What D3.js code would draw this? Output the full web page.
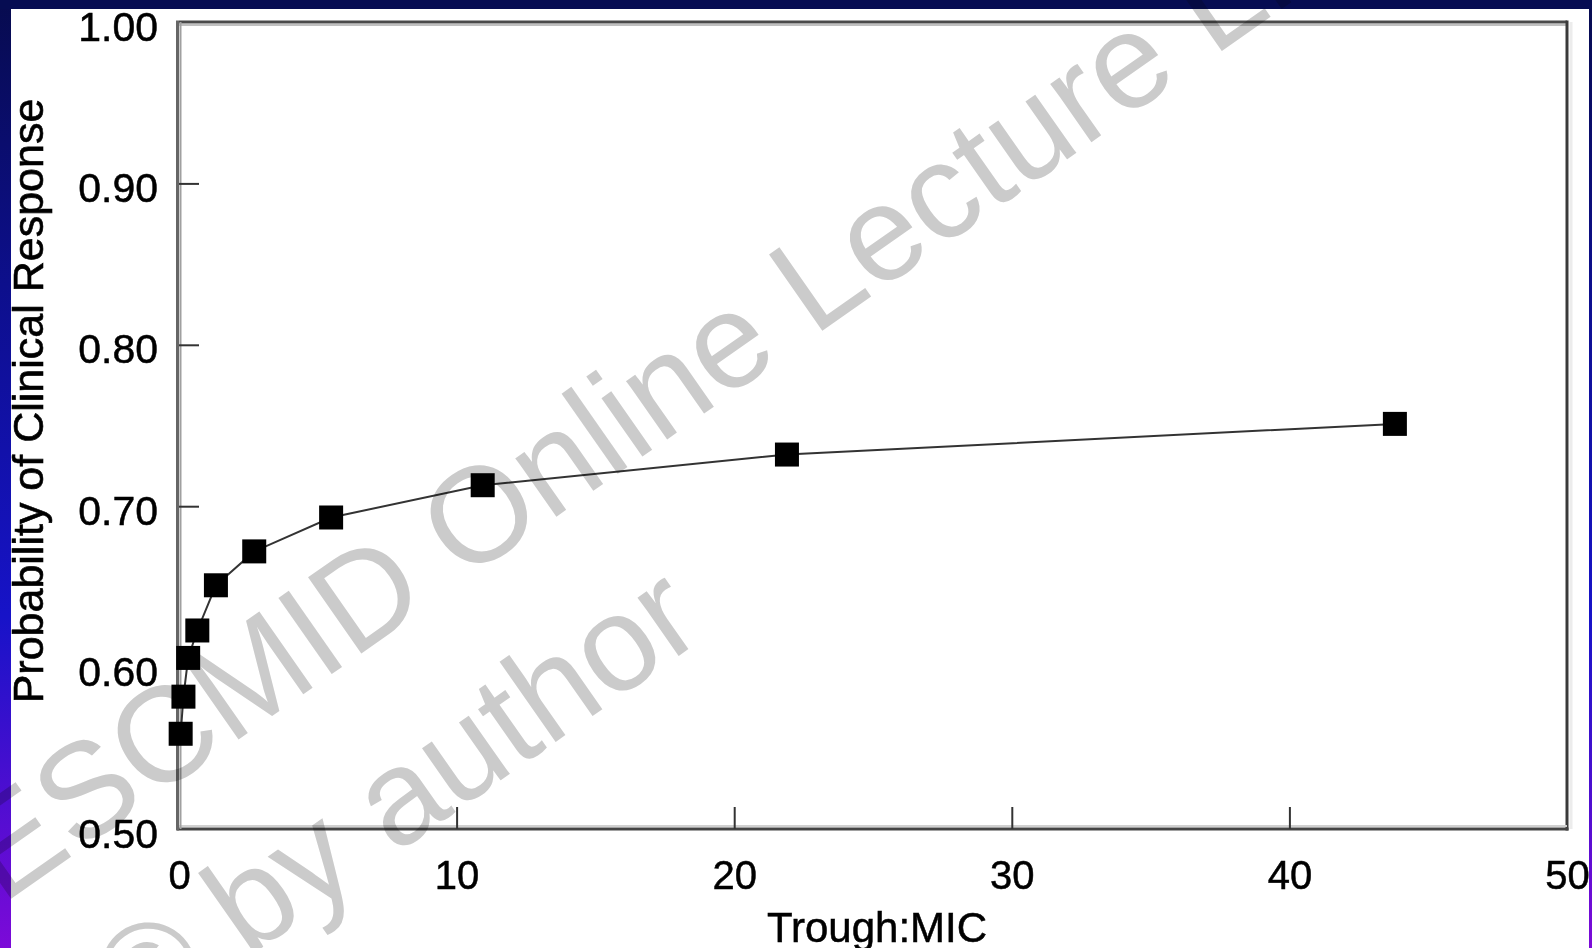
<!DOCTYPE html>
<html>
<head>
<meta charset="utf-8">
<script src="https://cdn.jsdelivr.net/npm/d3@7"></script>
<style>
  html, body { margin: 0; padding: 0; background: #fff; overflow: hidden; }
  svg { display: block; font-family: "Liberation Sans", Arial, sans-serif; }
</style>
</head>
<body>
<svg id="chart" width="1592" height="948"></svg>
<script>
// values
const troughMic = [0.06, 0.16, 0.33, 0.66, 1.33, 2.71, 5.48, 10.94, 21.9, 43.8];
const probResponse = [0.559, 0.582, 0.606, 0.623, 0.651, 0.672, 0.693, 0.713, 0.732, 0.751];
const xTicks = [0, 10, 20, 30, 40, 50];
const yTicks = [0.50, 0.60, 0.70, 0.80, 0.90, 1.00];
const xTitle = "Trough:MIC";
const yTitle = "Probability of Clinical Response";
const watermark = ["ESCMID Online Lecture Library", "\u00a9 by author"];

const W = 1592, H = 948;
const svg = d3.select("#chart");

// slide background: navy band on top, gradient strips at the sides
const grad = svg.append("defs").append("linearGradient")
    .attr("id", "side").attr("x1", 0).attr("y1", 0).attr("x2", 0).attr("y2", 1);
grad.append("stop").attr("offset", "0%").attr("stop-color", "#070b4f");
grad.append("stop").attr("offset", "30%").attr("stop-color", "#0d0f8c");
grad.append("stop").attr("offset", "65%").attr("stop-color", "#1713c8");
grad.append("stop").attr("offset", "100%").attr("stop-color", "#7c0ad8");

svg.append("rect").attr("width", W).attr("height", H).attr("fill", "#fff");
svg.append("rect").attr("x", 0).attr("y", 0).attr("width", 11).attr("height", H).attr("fill", "url(#side)");
svg.append("rect").attr("x", W - 3).attr("y", 0).attr("width", 3).attr("height", H).attr("fill", "url(#side)");
svg.append("rect").attr("x", 0).attr("y", 0).attr("width", W).attr("height", 9).attr("fill", "#060c52");

// scales
const x = d3.scaleLinear().domain([0, 50]).range([179, 1567]);
const y = d3.scaleLinear().domain([0.5, 1.0]).range([829, 22]);

const g = svg.append("g");

// frame
g.append("line").attr("x1", x(0)).attr("x2", x(50)).attr("y1", y(1) + 3).attr("y2", y(1) + 3)
    .attr("stroke", "#c0c0c0").attr("stroke-width", 2);
g.append("line").attr("x1", x(0)).attr("x2", x(50)).attr("y1", y(1)).attr("y2", y(1))
    .attr("stroke", "#4a4a4a").attr("stroke-width", 3);
g.append("line").attr("x1", x(50) + 4).attr("x2", x(50) + 4).attr("y1", y(1)).attr("y2", y(0.5))
    .attr("stroke", "#ececec").attr("stroke-width", 3);
g.append("line").attr("x1", x(50)).attr("x2", x(50)).attr("y1", y(1) - 1.5).attr("y2", y(0.5) + 1.5)
    .attr("stroke", "#3a3a3a").attr("stroke-width", 3);
g.append("line").attr("x1", x(0)).attr("x2", x(50)).attr("y1", y(0.5) - 3).attr("y2", y(0.5) - 3)
    .attr("stroke", "#d0d0d0").attr("stroke-width", 2);
g.append("line").attr("x1", x(0) - 2).attr("x2", x(50) + 1.5).attr("y1", y(0.5)).attr("y2", y(0.5))
    .attr("stroke", "#444").attr("stroke-width", 3);
g.append("line").attr("x1", x(0) + 1.5).attr("x2", x(0) + 1.5).attr("y1", y(1)).attr("y2", y(0.5))
    .attr("stroke", "#a0a0a0").attr("stroke-width", 2);
g.append("line").attr("x1", x(0) - 1.5).attr("x2", x(0) - 1.5).attr("y1", y(1) - 1.5).attr("y2", y(0.5) + 1.5)
    .attr("stroke", "#666").attr("stroke-width", 3);

// axes (ticks point inward)
const xAxis = g.append("g")
    .attr("transform", `translate(0,${y(0.5)})`)
    .call(d3.axisBottom(x).tickValues(xTicks).tickSizeInner(-22).tickSizeOuter(0).tickPadding(0));
xAxis.select(".domain").remove();
xAxis.selectAll(".tick line")
    .attr("stroke", "#333").attr("stroke-width", 2)
    .style("display", d => (d === 0 || d === 50) ? "none" : null);
xAxis.selectAll(".tick text")
    .attr("y", 60).attr("dy", null)
    .attr("fill", "#000").attr("stroke", "#000").attr("stroke-width", 0.5)
    .attr("font-size", 40).attr("font-family", "Liberation Sans, Arial, sans-serif");

const yAxis = g.append("g")
    .attr("transform", `translate(${x(0)},0)`)
    .call(d3.axisLeft(y).tickValues(yTicks).tickFormat(d3.format(".2f"))
        .tickSizeInner(-20).tickSizeOuter(0).tickPadding(0));
yAxis.select(".domain").remove();
yAxis.selectAll(".tick line")
    .attr("stroke", "#333").attr("stroke-width", 2)
    .style("display", d => (d === 0.5 || d === 1.0) ? "none" : null);
yAxis.selectAll(".tick text")
    .attr("x", -21).attr("dy", null).attr("y", 18)
    .attr("fill", "#000").attr("stroke", "#000").attr("stroke-width", 0.5)
    .attr("font-size", 41).attr("font-family", "Liberation Sans, Arial, sans-serif");

// axis titles
g.append("text")
    .attr("x", 877).attr("y", 942)
    .attr("text-anchor", "middle")
    .attr("font-size", 42)
    .attr("fill", "#000").attr("stroke", "#000").attr("stroke-width", 0.5)
    .text(xTitle);
g.append("text")
    .attr("transform", "translate(43,401) rotate(-90)")
    .attr("text-anchor", "middle")
    .attr("font-size", 43)
    .attr("fill", "#000").attr("stroke", "#000").attr("stroke-width", 0.6)
    .text(yTitle);

// line and square markers
const pts = troughMic.map((v, i) => [v, probResponse[i]]);
const line = d3.line().x(d => x(d[0])).y(d => y(d[1]));
g.append("path")
    .datum(pts)
    .attr("d", line)
    .attr("fill", "none")
    .attr("stroke", "#333")
    .attr("stroke-width", 2);
const S = 24;
g.selectAll("rect.pt")
    .data(pts)
    .enter()
    .append("rect")
    .attr("class", "pt")
    .attr("x", d => x(d[0]) - S / 2)
    .attr("y", d => y(d[1]) - S / 2)
    .attr("width", S)
    .attr("height", S)
    .attr("fill", "#000");

// watermark across the slide
const wm = svg.append("g")
    .attr("transform", "translate(2,905) rotate(-35)")
    .style("mix-blend-mode", "multiply");
wm.selectAll("text")
    .data(watermark)
    .enter()
    .append("text")
    .attr("x", (d, i) => i * 33)
    .attr("y", (d, i) => i * 184)
    .attr("font-size", 135)
    .attr("fill", "#cbcbcb")
    .text(d => d);
</script>
</body>
</html>
